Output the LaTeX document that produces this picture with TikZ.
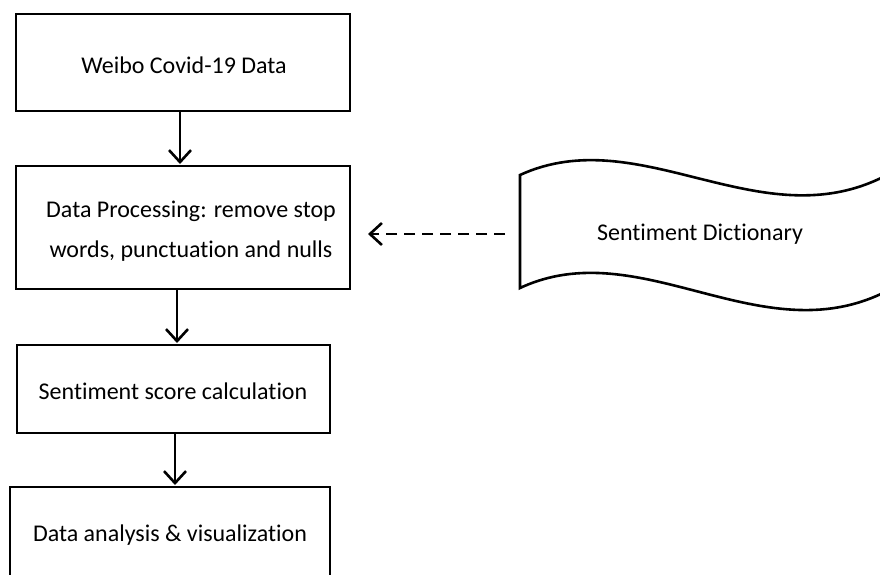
\documentclass[tikz,border=0pt]{standalone}
\usepackage{fontspec}
\setmainfont{Carlito}[Ligatures=CommonOff]
\usetikzlibrary{arrows.meta}
\begin{document}
\begin{tikzpicture}[x=1pt,y=-1pt,
  box/.style={draw=black,line width=2.6pt,fill=white},
  lbl/.style={font=\fontsize{24}{40}\selectfont,align=center,inner sep=0pt},
  arr/.style={line width=2.6pt,-{Straight Barb[length=12pt,width=22pt,line width=2.6pt]}},
  darr/.style={arr,dash pattern=on 11pt off 7pt}]
\useasboundingbox (0,0) rectangle (880,574);
\draw[box] (16,14) rectangle (350,111);
\node[lbl] (weibo) at (184,65) {Weibo Covid-19 Data};
\coordinate (b1) at (180,111);
\draw[box] (16,166) rectangle (350,289);
\node[lbl] (proc) at (191,231) {Data Processing: remove stop\\words, punctuation and nulls};
\coordinate (t2) at (180,164);
\coordinate (b2) at (177,289);
\coordinate (r2) at (368,234);
\draw[box] (17,345) rectangle (330,433);
\node[lbl] (score) at (173,391) {Sentiment score calculation};
\coordinate (t3) at (177,343);
\coordinate (b3) at (175,433);
\draw[box] (10,487) rectangle (330,590);
\node[lbl] (ana) at (170,535) {Data analysis \& visualization};
\coordinate (t4) at (175,485);
\draw[box] (520,175) .. controls (640,120) and (760,240) .. (885,176)
  -- (885,292) .. controls (760,354) and (640,232) .. (520,288) -- cycle;
\node[lbl] (dict) at (700,234) {Sentiment Dictionary};
\coordinate (dl) at (505,234);
\draw[arr] (b1) -- (t2);
\draw[arr] (b2) -- (t3);
\draw[arr] (b3) -- (t4);
\draw[darr] (dl) -- (r2);
\end{tikzpicture}
\end{document}
